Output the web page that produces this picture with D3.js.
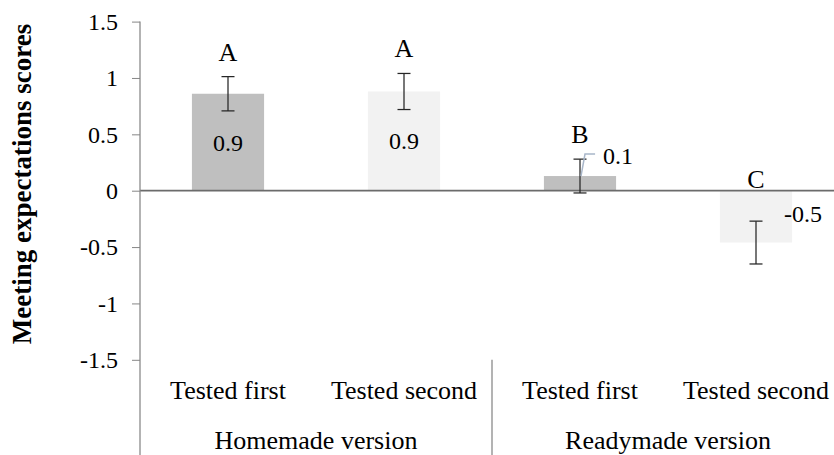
<!DOCTYPE html>
<html>
<head>
<meta charset="utf-8">
<script src="https://cdn.jsdelivr.net/npm/d3@7"></script>
<style>
  html, body { margin: 0; padding: 0; background: #fff; }
  svg { display: block; }
  svg text { font-family: "Liberation Serif", "Times New Roman", serif !important; fill: #000; }
</style>
</head>
<body>
<svg id="chart" width="834" height="455" font-family="Liberation Serif, Times New Roman, serif"></svg>
<script>
// ---- data ----
const categories = ["Tested first", "Tested second", "Tested first", "Tested second"];
const groups = ["Homemade version", "Readymade version"];
const means = [0.86, 0.88, 0.13, -0.46];
const errors = [0.152, 0.16, 0.15, 0.19];
const valueLabels = ["0.9", "0.9", "0.1", "-0.5"];
const letters = ["A", "A", "B", "C"];
const yTicks = [-1.5, -1, -0.5, 0, 0.5, 1, 1.5];
const yTitle = "Meeting expectations scores";

// ---- styles ----
const barFills = ["#bfbfbf", "#f2f2f2", "#bfbfbf", "#f2f2f2"];
const SERIF = '"Liberation Serif", "Times New Roman", serif';

const svg = d3.select("#chart");
const W = 834, H = 455;
const left = 140;

const y = d3.scaleLinear().domain([-1.5, 1.5]).range([359.8, 21.6]);
const x = d3.scaleBand().domain(d3.range(categories.length)).range([left, 844]).paddingInner(0).paddingOuter(0);
const bw = x.bandwidth() * 0.41;
const xc = i => x(i) + x.bandwidth() / 2;

// bars
svg.append("g").selectAll("rect").data(means).join("rect")
  .attr("x", (d, i) => xc(i) - bw / 2)
  .attr("y", d => y(Math.max(0, d)))
  .attr("width", bw)
  .attr("height", d => Math.abs(y(d) - y(0)))
  .attr("fill", (d, i) => barFills[i]);

// zero line
svg.append("line")
  .attr("x1", left).attr("x2", W)
  .attr("y1", y(0)).attr("y2", y(0))
  .attr("stroke", "#6b6b6b").attr("stroke-width", 1.75);

// y axis
const yAxis = d3.axisLeft(y).tickValues(yTicks).tickSize(8).tickPadding(14).tickFormat(d => String(d));
const ga = svg.append("g").attr("transform", `translate(${left},0)`).call(yAxis)
  .attr("font-family", SERIF).attr("font-size", 24);
ga.select(".domain").remove();
ga.selectAll(".tick line").attr("stroke", "#868686");
ga.selectAll(".tick text")
  .attr("font-family", SERIF)
  .attr("font-size", 24).attr("fill", "#000");
svg.append("line")
  .attr("x1", left).attr("x2", left)
  .attr("y1", y(1.5)).attr("y2", H)
  .attr("stroke", "#868686").attr("stroke-width", 1.25);

// group separator
svg.append("line")
  .attr("x1", x(2)).attr("x2", x(2))
  .attr("y1", y(-1.5)).attr("y2", H)
  .attr("stroke", "#868686").attr("stroke-width", 1.25);

// error bars
const eb = svg.append("g").attr("stroke", "#262626").attr("stroke-width", 1.25);
means.forEach((m, i) => {
  const cx = xc(i), yt = y(m + errors[i]), yb = y(m - errors[i]);
  eb.append("line").attr("x1", cx).attr("x2", cx).attr("y1", yt).attr("y2", yb);
  eb.append("line").attr("x1", cx - 6.5).attr("x2", cx + 6.5).attr("y1", yt).attr("y2", yt);
  eb.append("line").attr("x1", cx - 6.5).attr("x2", cx + 6.5).attr("y1", yb).attr("y2", yb);
});

// significance letters
svg.append("g").attr("font-family", SERIF).selectAll("text").data(letters).join("text")
  .attr("x", (d, i) => xc(i))
  .attr("y", (d, i) => {
    const top = means[i] + errors[i];
    return top > 0 ? y(top) - 16 : y(0) - 2.5;
  })
  .attr("text-anchor", "middle")
  .attr("font-size", 26)
  .text(d => d);

// value labels
const lab = svg.append("g").attr("font-family", SERIF);
means.forEach((m, i) => {
  if (i < 2) {
    lab.append("text")
      .attr("x", xc(i)).attr("y", (y(m) + y(0)) / 2)
      .attr("dy", "0.35em").attr("text-anchor", "middle")
      .attr("font-family", SERIF)
      .attr("font-size", 24).text(valueLabels[i]);
  } else if (i === 2) {
    const tx = xc(i) + bw / 2 - 13, ty = y(m) - 12;
    lab.append("path")
      .attr("d", d3.line()([[tx - 8, ty - 10], [xc(i) + 5, ty - 10], [xc(i) + 1, y(m)]]))
      .attr("fill", "none").attr("stroke", "#a8b6c9").attr("stroke-width", 1.5);
    lab.append("text").attr("x", tx).attr("y", ty)
      .attr("font-family", SERIF)
      .attr("font-size", 24).text(valueLabels[i]);
  } else {
    lab.append("text")
      .attr("x", xc(i) + bw / 2 - 8).attr("y", (y(m) + y(0)) / 2 - 3)
      .attr("dy", "0.35em")
      .attr("font-family", SERIF)
      .attr("font-size", 24).text(valueLabels[i]);
  }
});

// category labels
svg.append("g").attr("font-family", SERIF).selectAll("text").data(categories).join("text")
  .attr("x", (d, i) => xc(i)).attr("y", 399)
  .attr("text-anchor", "middle").attr("font-size", 26)
  .text(d => d);
svg.append("g").attr("font-family", SERIF).selectAll("text").data(groups).join("text")
  .attr("x", (d, i) => x(i * 2) + x.bandwidth()).attr("y", 449)
  .attr("text-anchor", "middle").attr("font-size", 26)
  .text(d => d);

// y title
svg.append("text")
  .attr("transform", `translate(31,184) rotate(-90)`)
  .attr("text-anchor", "middle")
  .attr("font-family", SERIF)
  .attr("font-size", 27).attr("font-weight", "bold")
  .text(yTitle);
</script>
</body>
</html>
